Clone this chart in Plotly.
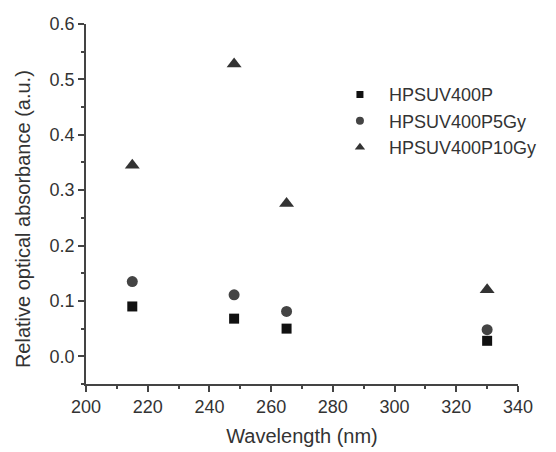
import plotly.graph_objects as go

wavelength = [215, 248, 265, 330]
p0 = [0.090, 0.068, 0.050, 0.028]
p5 = [0.135, 0.111, 0.081, 0.048]
p10 = [0.345, 0.528, 0.276, 0.120]
names = ["HPSUV400P", "HPSUV400P5Gy", "HPSUV400P10Gy"]
symbols = ["square", "circle", "triangle-up"]
colors = ["#111111", "#444444", "#333333"]
sizes = [10, 11, 13]
legend_sizes = [7, 8, 9]
series = [p0, p5, p10]
x_title = "Wavelength (nm)"
y_title = "Relative optical absorbance (a.u.)"

FONT = "Liberation Sans, Arial"
fig = go.Figure()
for vals, nm, sym, col, sz in zip(series, names, symbols, colors, sizes):
    fig.add_trace(go.Scatter(x=wavelength, y=vals, mode="markers", name=nm, showlegend=False,
                             marker=dict(symbol=sym, size=sz, color=col)))
for nm, sym, col, sz in zip(names, symbols, colors, legend_sizes):
    fig.add_trace(go.Scatter(x=[None], y=[None], mode="markers", name=nm,
                             marker=dict(symbol=sym, size=sz, color=col)))

axis_common = dict(showline=True, linecolor="#444444", linewidth=1.5, showgrid=False,
                   zeroline=False, ticks="outside", ticklen=6, tickcolor="#444444", tickwidth=1.5,
                   automargin=False,
                   tickfont=dict(family=FONT, size=18, color="#333333"))
fig.update_xaxes(range=[200, 340], dtick=20, tick0=200,
                 title=dict(text=x_title, font=dict(family=FONT, size=20, color="#333333"), standoff=13),
                 minor=dict(ticks="outside", ticklen=3, dtick=10, tickcolor="#444444"),
                 **axis_common)
fig.update_yaxes(range=[-0.05, 0.6], dtick=0.1, tick0=0, tickformat=".1f",
                 minor=dict(ticks="outside", ticklen=3, dtick=0.05, tickcolor="#444444"),
                 **axis_common)
fig.add_annotation(text=y_title, textangle=-90, xref="paper", yref="paper",
                   x=0, y=0.458, xanchor="center", yanchor="middle", xshift=-63,
                   showarrow=False, font=dict(family=FONT, size=20, color="#333333"))
fig.update_layout(width=548, height=444, plot_bgcolor="white", paper_bgcolor="white",
                  margin=dict(l=78, r=38, t=16, b=68),
                  showlegend=True,
                  legend=dict(x=0.567, y=0.855, xanchor="left", yanchor="top",
                              bgcolor="rgba(0,0,0,0)", tracegroupgap=0, itemwidth=48,
                              font=dict(family=FONT, size=18, color="#333333")))
fig.write_html("out.html")
